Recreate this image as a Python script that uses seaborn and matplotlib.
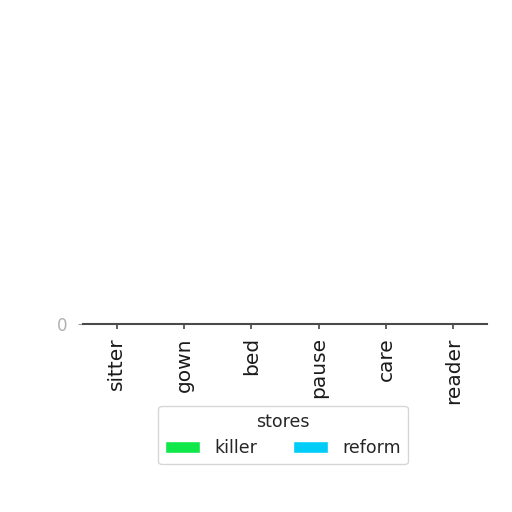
import matplotlib

matplotlib.use("Agg")
import matplotlib.pyplot as plt  # noqa: E402
import pandas as pd  # noqa: E402
import seaborn as sns  # noqa: E402

CATEGORIES = ["sitter", "gown", "bed", "pause", "care", "reader"]
STORES = ["killer", "reform"]
KILLER = [3, 5, 2, 6, 4, 7]
REFORM = [4, 2, 6, 3, 5, 2]
PALETTE = {"killer": "#10e84a", "reform": "#00cdf7"}

df = pd.DataFrame({
    "category": CATEGORIES * 2,
    "stores": ["killer"] * len(CATEGORIES) + ["reform"] * len(CATEGORIES),
    "value": KILLER + REFORM,
})

sns.set_style("ticks")
fig = plt.figure(figsize=(5.12, 5.12), dpi=100)
# the axes is squashed to a thin strip, as in the reference
ax = fig.add_axes([83 / 512, 1 - 324 / 512, 404 / 512, 2 / 512])
sns.barplot(data=df, x="category", y="value", hue="stores", order=CATEGORIES,
            hue_order=STORES, palette=PALETTE, saturation=1, ax=ax)
ax.set_ylim(0, max(KILLER + REFORM))
ax.set_yticks([0])
ax.set_xlabel("")
ax.set_ylabel("")
ax.tick_params(axis="x", labelrotation=90, labelsize=14.5, pad=6,
               labelcolor="#1a1a1a", color="#444444", width=1.2)
ax.tick_params(axis="y", labelsize=12, pad=8, labelcolor="#b0b0b0",
               color="#999999")
for side in ("top", "right", "left"):
    ax.spines[side].set_visible(False)
ax.spines["bottom"].set_color("#4a4a4a")
ax.spines["bottom"].set_linewidth(1.5)

handles, labels = ax.get_legend_handles_labels()
ax.legend_.remove()
fig.legend(handles, labels, title="stores", ncol=2, loc="center",
           bbox_to_anchor=(283 / 512, 1 - 435 / 512), fontsize=12.5,
           title_fontsize=12.5, columnspacing=2.1, handlelength=2.0)

fig.savefig("out.png", dpi=100)
